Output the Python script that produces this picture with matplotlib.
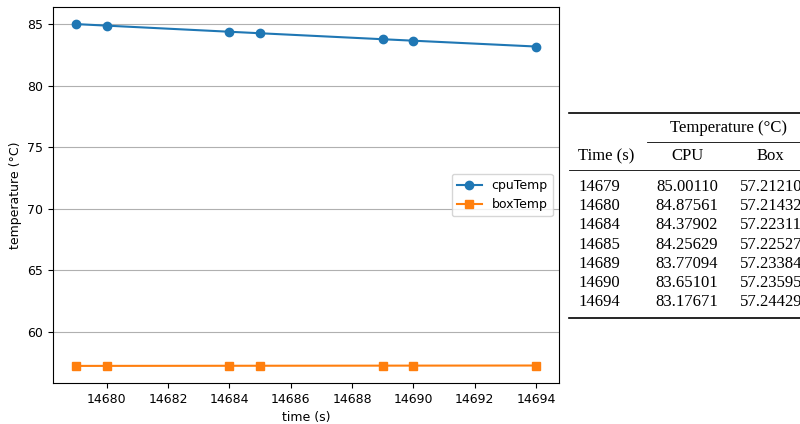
import matplotlib
matplotlib.use("Agg")
import matplotlib.pyplot as plt
from matplotlib.lines import Line2D

time_s = [14679, 14680, 14684, 14685, 14689, 14690, 14694]
cpu_temp = [85.00110, 84.87561, 84.37902, 84.25629, 83.77094, 83.65101, 83.17671]
box_temp = [57.21210, 57.21432, 57.22311, 57.22527, 57.23384, 57.23595, 57.24429]

W, H = 800, 424
plt.rcParams["font.size"] = 9
fig = plt.figure(figsize=(W / 100, H / 100), dpi=100)
ax = fig.add_axes([53 / W, 1 - 383 / H, (559 - 53) / W, (383 - 7) / H])

ax.plot(time_s, cpu_temp, marker="o", color="tab:blue", label="cpuTemp")
ax.plot(time_s, box_temp, marker="s", color="tab:orange", label="boxTemp")
ax.grid(True, axis="y")
ax.set_axisbelow(True)
ax.set_xticks(range(14680, 14695, 2))
ax.set_xlabel("time (s)")
ax.set_ylabel("temperature (°C)")
ax.legend(loc="center right")

# booktabs-style table drawn in pixel coordinates of the figure
serif = ["Liberation Serif", "DejaVu Serif"]
fs = 12


def px(x, y):
    return x / W, 1 - y / H


def put(x, y, s, ha="left"):
    fig.text(*px(x, y), s, ha=ha, va="center", fontsize=fs, family=serif)


def rule(x0, x1, y, lw):
    (a, b), (c, d) = px(x0, y), px(x1, y)
    fig.add_artist(Line2D([a, c], [b, d], color="black", linewidth=lw,
                          transform=fig.transFigure))


rule(569, 800, 113, 1.2)
put(728, 128, "Temperature (°C)", ha="center")
rule(647, 800, 142, 0.6)
put(578, 156, "Time (s)")
put(687, 156, "CPU", ha="center")
put(770, 156, "Box", ha="center")
rule(569, 800, 170, 0.6)

row_y0, row_dy = 187, 19.2
for i, (t, c, b) in enumerate(zip(time_s, cpu_temp, box_temp)):
    y = row_y0 + i * row_dy
    put(578, y, f"{t}")
    put(718, y, f"{c:.5f}", ha="right")
    put(802, y, f"{b:.5f}", ha="right")

rule(569, 800, 318, 1.2)

fig.savefig("out.png", dpi=100)
